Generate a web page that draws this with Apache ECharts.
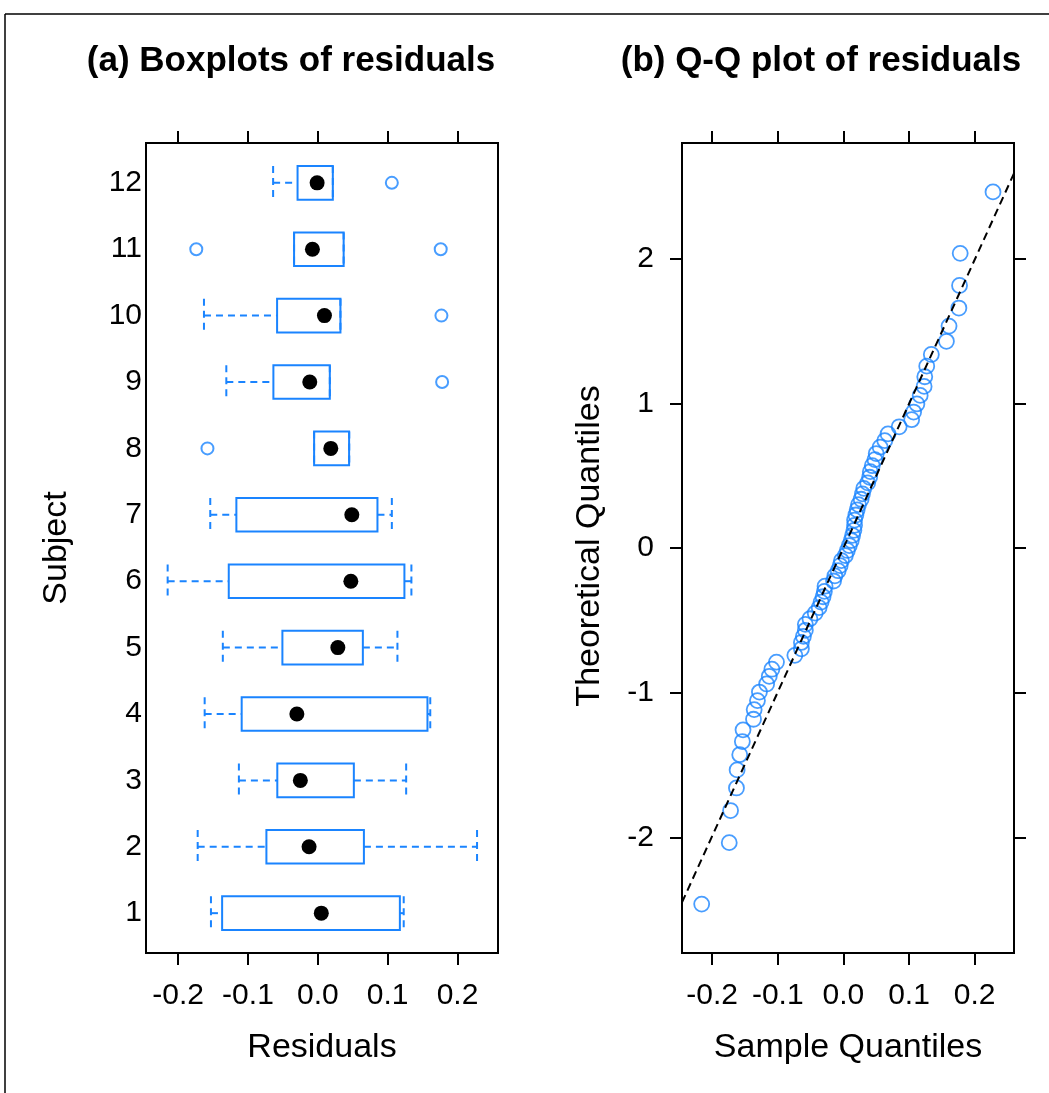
<!DOCTYPE html>
<html>
<head>
<meta charset="utf-8">
<script src="https://cdn.jsdelivr.net/npm/echarts@6/dist/echarts.min.js"></script>
<style>
html,body{margin:0;padding:0;background:#fff;}
#c{width:1049px;height:1093px;}
</style>
</head>
<body>
<div id="c"></div>
<script>
// ---------- data ----------
const subjects     = [1, 2, 3, 4, 5, 6, 7, 8, 9, 10, 11, 12];
const whiskerLow   = [-0.153, -0.172, -0.113, -0.162, -0.136, -0.215, -0.154, -0.0053, -0.131, -0.163, -0.034, -0.064];
const lowerHinge   = [-0.137, -0.0736, -0.058, -0.109, -0.0507, -0.1275, -0.1166, -0.0053, -0.0636, -0.0583, -0.034, -0.029];
const medians      = [0.005, -0.0125, -0.025, -0.030, 0.0287, 0.0473, 0.0487, 0.0186, -0.0115, 0.0095, -0.0077, -0.001];
const upperHinge   = [0.1175, 0.066, 0.0516, 0.157, 0.0645, 0.124, 0.0854, 0.0448, 0.0172, 0.0324, 0.037, 0.0215];
const whiskerHigh  = [0.123, 0.228, 0.1265, 0.161, 0.114, 0.134, 0.106, 0.045, 0.0172, 0.0324, 0.037, 0.0215];
const outlierValues   = [-0.158, 0.178, 0.177, -0.174, 0.176, 0.106];
const outlierSubjects = [8, 9, 10, 11, 11, 12];

const sampleQuantiles = [
  -0.216, -0.174, -0.172, -0.163, -0.162, -0.158, -0.154, -0.153, -0.137, -0.136,
  -0.131, -0.128, -0.117, -0.113, -0.109, -0.102, -0.074, -0.064, -0.064, -0.061,
  -0.058, -0.058, -0.051, -0.043, -0.037, -0.034, -0.031, -0.029, -0.028, -0.015,
  -0.013, -0.008, -0.005, -0.003, 0.003, 0.006, 0.009, 0.012, 0.014, 0.016,
  0.017, 0.017, 0.019, 0.021, 0.023, 0.027, 0.029, 0.031, 0.037, 0.040,
  0.041, 0.044, 0.048, 0.050, 0.056, 0.063, 0.068, 0.085, 0.104, 0.107,
  0.112, 0.117, 0.123, 0.124, 0.127, 0.134, 0.157, 0.161, 0.176, 0.177,
  0.178, 0.228
];
const theoreticalQuantiles = [
  -2.462, -2.037, -1.815, -1.659, -1.534, -1.429, -1.338, -1.257, -1.184, -1.117,
  -1.055, -0.996, -0.940, -0.887, -0.838, -0.789, -0.742, -0.697, -0.653, -0.611,
  -0.569, -0.528, -0.489, -0.450, -0.412, -0.374, -0.337, -0.300, -0.264, -0.228,
  -0.193, -0.157, -0.122, -0.087, -0.052, -0.017, 0.017, 0.052, 0.087, 0.122,
  0.157, 0.193, 0.228, 0.264, 0.300, 0.337, 0.374, 0.412, 0.450, 0.489,
  0.528, 0.569, 0.611, 0.653, 0.697, 0.742, 0.789, 0.838, 0.887, 0.940,
  0.996, 1.055, 1.117, 1.184, 1.257, 1.338, 1.429, 1.534, 1.659, 1.815,
  2.037, 2.462
];
const qqLineX = [-0.246, 0.26];
const qqLineY = [-2.45, 2.59];

const residualTicks = [-0.2, -0.1, 0.0, 0.1, 0.2];
const quantileTicks = [-2, -1, 0, 1, 2];

// ---------- styling ----------
const BLUE = '#1a84ff';
const FONT = '"Liberation Sans", Arial, sans-serif';

const boxData = subjects.map((s, i) => [s, whiskerLow[i], lowerHinge[i], medians[i], upperHinge[i], whiskerHigh[i]]);
const outlierData = outlierValues.map((v, i) => [v, outlierSubjects[i]]);
const qqData = sampleQuantiles.map((v, i) => [v, theoreticalQuantiles[i]]);
const lineData = qqLineX.map((v, i) => [v, qqLineY[i]]);

const noLine = {show: false, onZero: false};
const tickStyle = {show: true, length: 12, inside: false, lineStyle: {color: '#000', width: 2}};
const labelStyle = {color: '#000', fontSize: 30, fontFamily: FONT};
const fmt1 = v => (Math.abs(v) < 1e-9 ? 0 : v).toFixed(1);

function xAxisPair(gridIndex, min, max) {
  return [
    {gridIndex, type: 'value', min, max, position: 'bottom',
     axisLine: noLine, splitLine: {show: false},
     axisTick: Object.assign({customValues: residualTicks}, tickStyle),
     axisLabel: Object.assign({customValues: residualTicks, formatter: fmt1, margin: 28}, labelStyle)},
    {gridIndex, type: 'value', min, max, position: 'top',
     axisLine: noLine, splitLine: {show: false},
     axisTick: Object.assign({customValues: residualTicks}, tickStyle),
     axisLabel: {show: false}}
  ];
}

const chart = echarts.init(document.getElementById('c'), null, {renderer: 'canvas'});

chart.setOption({
  animation: false,
  backgroundColor: '#fff',
  grid: [
    {left: 146, right: 551, top: 143, bottom: 140, show: true, borderColor: '#000', borderWidth: 2, backgroundColor: 'transparent'},
    {left: 682, right: 35, top: 143, bottom: 140, show: true, borderColor: '#000', borderWidth: 2, backgroundColor: 'transparent'}
  ],
  xAxis: [].concat(xAxisPair(0, -0.246, 0.258), xAxisPair(1, -0.246, 0.26)),
  yAxis: [
    {gridIndex: 0, type: 'value', min: 0.4, max: 12.6, position: 'left',
     axisLine: noLine, splitLine: {show: false}, axisTick: {show: false},
     axisLabel: Object.assign({customValues: subjects, margin: 4}, labelStyle)},
    {gridIndex: 1, type: 'value', min: -2.8, max: 2.8, position: 'left',
     axisLine: noLine, splitLine: {show: false},
     axisTick: Object.assign({customValues: quantileTicks}, tickStyle),
     axisLabel: Object.assign({customValues: quantileTicks, margin: 28}, labelStyle)},
    {gridIndex: 1, type: 'value', min: -2.8, max: 2.8, position: 'right',
     axisLine: noLine, splitLine: {show: false},
     axisTick: Object.assign({customValues: quantileTicks}, tickStyle),
     axisLabel: {show: false}}
  ],
  series: [
    {
      type: 'custom', xAxisIndex: 0, yAxisIndex: 0, data: boxData,
      encode: {x: [1, 2, 3, 4, 5], y: 0},
      clip: false,
      renderItem: function (params, api) {
        const s = api.value(0);
        const pLo = api.coord([api.value(1), s]);
        const pQ1 = api.coord([api.value(2), s]);
        const pMd = api.coord([api.value(3), s]);
        const pQ3 = api.coord([api.value(4), s]);
        const pHi = api.coord([api.value(5), s]);
        const h = api.size([0, 0.506])[1];
        const y = pLo[1];
        const dash = {stroke: BLUE, lineWidth: 2, lineDash: [7, 5], fill: null};
        return {
          type: 'group',
          children: [
            {type: 'line', shape: {x1: pLo[0], y1: y, x2: pQ1[0], y2: y}, style: dash},
            {type: 'line', shape: {x1: pQ3[0], y1: y, x2: pHi[0], y2: y}, style: dash},
            {type: 'line', shape: {x1: pLo[0], y1: y - h / 2, x2: pLo[0], y2: y + h / 2}, style: dash},
            {type: 'line', shape: {x1: pHi[0], y1: y - h / 2, x2: pHi[0], y2: y + h / 2}, style: dash},
            {type: 'rect', shape: {x: pQ1[0], y: y - h / 2, width: pQ3[0] - pQ1[0], height: h},
             style: {fill: null, stroke: BLUE, lineWidth: 2}},
            {type: 'circle', shape: {cx: pMd[0], cy: y, r: 7.5}, style: {fill: '#000', stroke: null}}
          ]
        };
      }
    },
    {
      type: 'scatter', xAxisIndex: 0, yAxisIndex: 0, data: outlierData,
      symbol: 'circle', symbolSize: 12,
      itemStyle: {color: 'rgba(0,0,0,0)', borderColor: BLUE, borderWidth: 2}
    },
    {
      type: 'line', xAxisIndex: 2, yAxisIndex: 1, data: lineData,
      symbol: 'none', silent: true,
      lineStyle: {color: '#000', width: 2, type: [8, 5]}
    },
    {
      type: 'scatter', xAxisIndex: 2, yAxisIndex: 1, data: qqData,
      symbol: 'circle', symbolSize: 15,
      itemStyle: {color: 'rgba(0,0,0,0)', borderColor: BLUE, borderWidth: 1.8}
    }
  ],
  graphic: [
    {type: 'line', shape: {x1: 5, y1: 14, x2: 1049, y2: 14}, style: {stroke: '#000', lineWidth: 1.5}},
    {type: 'line', shape: {x1: 5, y1: 14, x2: 5, y2: 1093}, style: {stroke: '#000', lineWidth: 1.5}},
    {type: 'text', x: 291, y: 61, style: {text: '(a) Boxplots of residuals', font: 'bold 35px ' + FONT, fill: '#000', textAlign: 'center', textVerticalAlign: 'middle'}},
    {type: 'text', x: 821, y: 61, style: {text: '(b) Q-Q plot of residuals', font: 'bold 35px ' + FONT, fill: '#000', textAlign: 'center', textVerticalAlign: 'middle'}},
    {type: 'text', x: 322, y: 1048, style: {text: 'Residuals', font: '34px ' + FONT, fill: '#000', textAlign: 'center', textVerticalAlign: 'middle'}},
    {type: 'text', x: 848, y: 1048, style: {text: 'Sample Quantiles', font: '34px ' + FONT, fill: '#000', textAlign: 'center', textVerticalAlign: 'middle'}},
    {type: 'text', x: 57, y: 548, rotation: Math.PI / 2, style: {text: 'Subject', font: '34px ' + FONT, fill: '#000', textAlign: 'center', textVerticalAlign: 'middle'}},
    {type: 'text', x: 590, y: 546, rotation: Math.PI / 2, style: {text: 'Theoretical Quantiles', font: '34px ' + FONT, fill: '#000', textAlign: 'center', textVerticalAlign: 'middle'}}
  ]
});
</script>
</body>
</html>
